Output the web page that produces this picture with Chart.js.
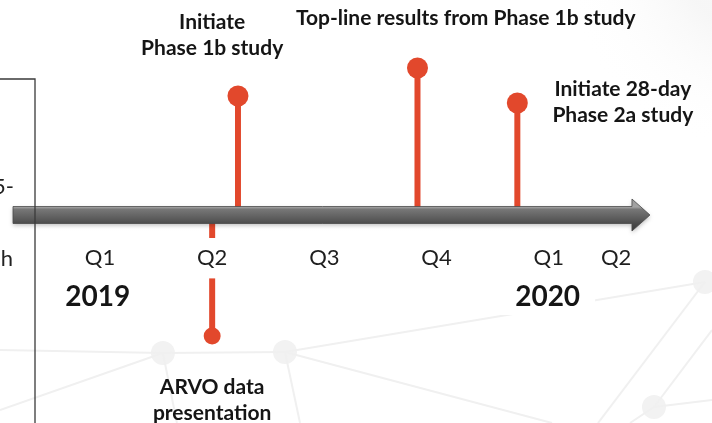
<!DOCTYPE html>
<html>
<head>
<meta charset="utf-8">
<title>Development timeline</title>
<script src="https://cdn.jsdelivr.net/npm/chart.js@4.4.0/dist/chart.umd.min.js"></script>
<style>
  html, body { margin: 0; padding: 0; background: #fff; }
  #wrap { position: relative; width: 712px; height: 423px; }
</style>
</head>
<body>
<div id="wrap"><canvas id="timeline"></canvas></div>
<script>
'use strict';

/* ── Data ── */
// x runs in quarters from Q1 2019, y is the stem height above (+) or below (-) the timeline
const quarterLabels = ['Q1', 'Q2', 'Q3', 'Q4', 'Q1', 'Q2'];
const quarterPos    = [0, 1, 2, 3, 4, 4.6];
const yearLabels    = ['2019', '2020'];
const yearPos       = [-0.02, 3.99];

const eventLabels = [
  ['Initiate', 'Phase 1b study'],
  ['Top-line results from Phase 1b study'],
  ['Initiate 28-day', 'Phase 2a study'],
  ['ARVO data', 'presentation'],
];
const eventPos    = [1.23, 2.83, 3.72, 1.0];
const eventHeight = [119, 147, 112, -121];

// faint network pattern behind the timeline: [x1, y1, x2, y2]
const netLinks = [
  [-0.891, -135, 0.561, -138],
  [0.561, -138, 1.649, -137],
  [1.649, -137, 5.392, -67],
  [-0.891, -195, 0.561, -138],
  [0.561, -138, 0.686, -208],
  [1.649, -137, 1.783, -208],
  [1.649, -137, 4.029, -208],
  [5.392, -67, 4.439, -208],
  [5.455, -115, 4.938, -192],
  [4.938, -192, 5.455, -185],
  [4.938, -192, 4.724, -208],
];
const netNodesX = [0.561, 1.649, 4.938, 5.392];
const netNodesY = [-138, -137, -192, -67];

/* ── Layout ── */
const X_MIN = -0.891, X_MAX = 5.455;
const Y_MIN = -208,   Y_MAX = 215;
const AXIS_START = -0.775, AXIS_END = 4.902;
const calloutX = [1.0, 3.26, 4.66, 1.0];
const calloutY = [193, 197, 126, -172];
const YEAR_Y = -82;
const PANEL_X = -0.579, PANEL_TOP = 136;

const RED  = '#E2482C';
const INK  = '#151515';
const FONT = 'Lato, "Open Sans", sans-serif';

/* ── Datasets ── */
const networkSets = netLinks.map(l => ({
  data: [{ x: l[0], y: l[1] }, { x: l[2], y: l[3] }],
  showLine: true,
  borderColor: '#f0f0f0',
  borderWidth: 2,
  pointRadius: 0,
}));

networkSets.push({
  data: netNodesX.map((x, i) => ({ x, y: netNodesY[i] })),
  showLine: false,
  pointRadius: 12,
  pointBackgroundColor: '#f2f2f2',
  pointBorderWidth: 0,
});

const stemSets = eventPos.map((x, i) => ({
  data: [{ x, y: 0 }, { x, y: eventHeight[i] }],
  showLine: true,
  borderColor: RED,
  borderWidth: 6,
  pointRadius: c => (c.dataIndex === 1 ? (eventHeight[i] < 0 ? 8.5 : 10.5) : 0),
  pointBackgroundColor: RED,
  pointBorderWidth: 0,
}));

/* ── Arrow, year and event labels, side panel ── */
const timelinePlugin = {
  id: 'timeline',
  beforeDraw(chart) {
    const { ctx, width, height } = chart;
    ctx.save();
    ctx.fillStyle = '#fff';
    ctx.fillRect(0, 0, width, height);
    // faint grey corner in the top right
    const g = ctx.createRadialGradient(width + 40, -40, 70, width + 40, -40, 190);
    g.addColorStop(0, 'rgba(230,230,230,0.35)');
    g.addColorStop(1, 'rgba(255,255,255,0)');
    ctx.fillStyle = g;
    ctx.fillRect(0, 0, width, height);
    ctx.restore();
  },
  afterDatasetsDraw(chart) {
    const { ctx, scales: { x, y } } = chart;
    ctx.save();

    // timeline arrow
    const x0 = x.getPixelForValue(AXIS_START);
    const x1 = x.getPixelForValue(AXIS_END);
    const yc = y.getPixelForValue(0);
    const sh = 8.5, hh = 16, hl = 18;
    ctx.beginPath();
    ctx.moveTo(x0, yc - sh);
    ctx.lineTo(x1 - hl, yc - sh);
    ctx.lineTo(x1 - hl, yc - hh);
    ctx.lineTo(x1, yc);
    ctx.lineTo(x1 - hl, yc + hh);
    ctx.lineTo(x1 - hl, yc + sh);
    ctx.lineTo(x0, yc + sh);
    ctx.closePath();
    const grad = ctx.createLinearGradient(0, yc - hh, 0, yc + hh);
    grad.addColorStop(0, '#9c9c9c');
    grad.addColorStop(0.25, '#a4a4a4');
    grad.addColorStop(0.32, '#777');
    grad.addColorStop(0.6, '#5d5d5d');
    grad.addColorStop(0.78, '#4a4a4a');
    grad.addColorStop(1, '#3a3a3a');
    ctx.shadowColor = 'rgba(0,0,0,0.25)';
    ctx.shadowBlur = 4;
    ctx.shadowOffsetY = 2;
    ctx.fillStyle = grad;
    ctx.fill();
    ctx.shadowColor = 'transparent';
    ctx.strokeStyle = '#4a4a4a';
    ctx.lineWidth = 0.8;
    ctx.stroke();

    // years under the quarters
    ctx.font = 'bold 28px ' + FONT;
    ctx.textAlign = 'center';
    ctx.textBaseline = 'middle';
    yearLabels.forEach((t, i) => {
      const px = x.getPixelForValue(yearPos[i]);
      const py = y.getPixelForValue(YEAR_Y);
      const w = ctx.measureText(t).width;
      ctx.fillStyle = '#fff';
      ctx.fillRect(px - w / 2 - 15, py - 18, w + 30, 36);
      ctx.fillStyle = INK;
      ctx.fillText(t, px, py);
    });

    // event callouts
    ctx.font = 'bold 21px ' + FONT;
    eventLabels.forEach((lines, i) => {
      const px = x.getPixelForValue(calloutX[i]);
      lines.forEach((t, j) => {
        ctx.fillStyle = INK;
        ctx.fillText(t, px, y.getPixelForValue(calloutY[i]) + j * 26);
      });
    });

    // edge of the neighbouring text panel
    const bx = x.getPixelForValue(PANEL_X);
    const by = y.getPixelForValue(PANEL_TOP);
    ctx.strokeStyle = '#3a3a3a';
    ctx.lineWidth = 1.3;
    ctx.beginPath();
    ctx.moveTo(0, by);
    ctx.lineTo(bx, by);
    ctx.lineTo(bx, chart.height);
    ctx.stroke();
    ctx.font = '22px ' + FONT;
    ctx.textAlign = 'right';
    ctx.fillStyle = '#222';
    ctx.fillText('5-', 14, 187);
    ctx.fillText('h', 13, 259);

    ctx.restore();
  },
};

/* ── Chart ── */
new Chart(document.getElementById('timeline'), {
  type: 'scatter',
  data: { datasets: [...networkSets, ...stemSets] },
  options: {
    responsive: true,
    maintainAspectRatio: false,
    animation: false,
    layout: { padding: 0, autoPadding: false },
    plugins: { legend: { display: false }, tooltip: { enabled: false } },
    scales: {
      x: {
        type: 'linear',
        min: X_MIN,
        max: X_MAX,
        position: { y: 0 },
        z: 1,
        grid: { display: false, drawTicks: false },
        border: { display: false },
        afterBuildTicks: s => { s.ticks = quarterPos.map(v => ({ value: v })); },
        ticks: {
          z: 1,
          autoSkip: false,
          maxRotation: 0,
          padding: 30,
          color: '#1e1e1e',
          font: { family: FONT, size: 22 },
          showLabelBackdrop: true,
          backdropColor: '#fff',
          backdropPadding: { top: 7, bottom: 7, left: 8, right: 8 },
          callback: (v, i) => quarterLabels[i],
        },
      },
      y: { type: 'linear', min: Y_MIN, max: Y_MAX, display: false },
    },
  },
  plugins: [timelinePlugin],
});
</script>
</body>
</html>
